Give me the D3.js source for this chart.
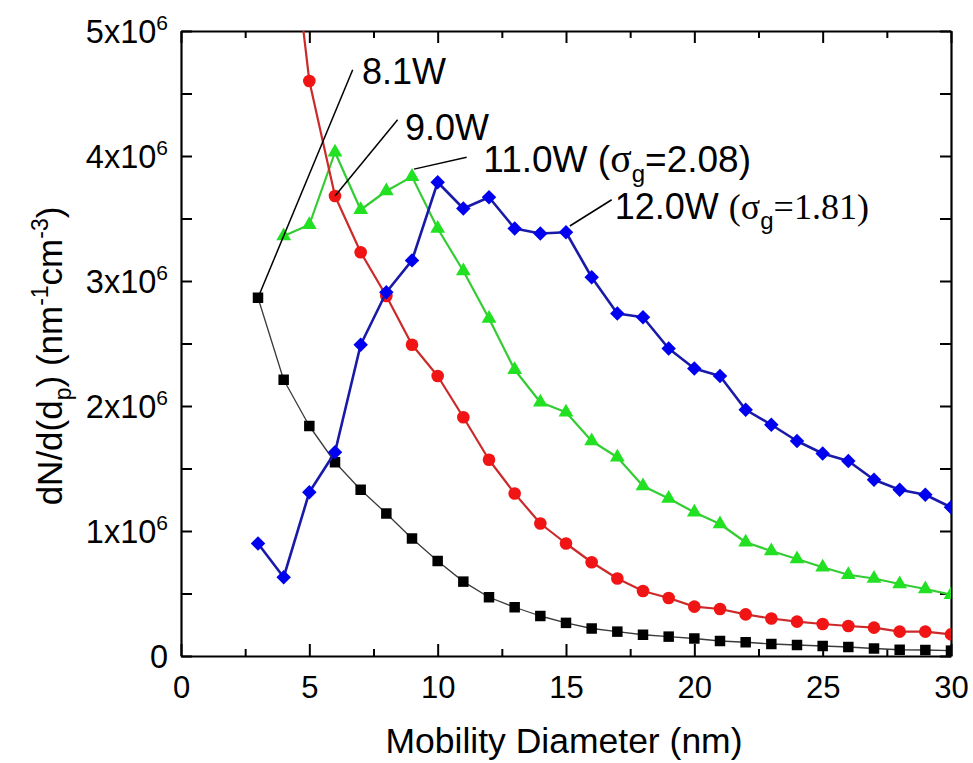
<!DOCTYPE html>
<html>
<head>
<meta charset="utf-8">
<script src="https://cdn.jsdelivr.net/npm/d3@7"></script>
<style>
  html, body { margin: 0; padding: 0; background: #fff; }
  svg { display: block; }
  text { font-family: "Liberation Sans", Arial, sans-serif; fill: #000; }
</style>
</head>
<body>
<svg id="chart" width="973" height="763"></svg>
<script>
// Particle size distributions at four lamp powers (dN/d(dp), units of 10^6 nm^-1 cm^-3)
const diam3 = d3.range(3, 31);           // 3..30 nm
const diam4 = d3.range(4, 31);           // 4..30 nm

const w81 = [2.866, 2.21, 1.84, 1.55, 1.33, 1.14, 0.94, 0.76, 0.595, 0.47, 0.39, 0.32, 0.265, 0.22,
             0.195, 0.17, 0.155, 0.14, 0.12, 0.11, 0.096, 0.088, 0.08, 0.072, 0.06, 0.05, 0.048, 0.043];
const w90 = [6.35, 4.6, 3.68, 3.23, 2.88, 2.49, 2.24, 1.91, 1.57, 1.30, 1.06, 0.90, 0.75, 0.62,
             0.52, 0.464, 0.395, 0.376, 0.333, 0.30, 0.275, 0.256, 0.24, 0.227, 0.195, 0.195, 0.173];
const w110 = [3.36, 3.45, 4.03, 3.57, 3.72, 3.835, 3.42, 3.08, 2.70, 2.29, 2.03, 1.95, 1.72, 1.59,
              1.36, 1.26, 1.15, 1.056, 0.91, 0.84, 0.776, 0.71, 0.65, 0.62, 0.576, 0.536, 0.49];
const w120 = [0.90, 0.63, 1.31, 1.63, 2.49, 2.91, 3.165, 3.79, 3.58, 3.67, 3.42, 3.38, 3.39, 3.03,
              2.74, 2.71, 2.46, 2.30, 2.24, 1.97, 1.85, 1.72, 1.62, 1.56, 1.41, 1.33, 1.29, 1.19];

const xMajorTicks = [0, 5, 10, 15, 20, 25, 30];
const xMinorTicks = [2.5, 7.5, 12.5, 17.5, 22.5, 27.5];
const yMajorTicks = [0, 1, 2, 3, 4, 5];
const yMinorTicks = [0.5, 1.5, 2.5, 3.5, 4.5];

const xTitle = "Mobility Diameter (nm)";

const series = [
  { x: diam3, y: w81,  line: "#3a3a3a", lw: 1.3, fill: "#000000", shape: "square" },
  { x: diam4, y: w110, line: "#33cc33", lw: 2.2, fill: "#22e022", shape: "triangle" },
  { x: diam4, y: w90,  line: "#cc2a2a", lw: 2.2, fill: "#f01414", shape: "circle" },
  { x: diam3, y: w120, line: "#1a1aa8", lw: 2.6, fill: "#0000f0", shape: "diamond" }
];

const svg = d3.select("#chart");
const pLeft = 181, pRight = 951, pTop = 31, pBottom = 656;

const x = d3.scaleLinear().domain([0, 30]).range([pLeft, pRight]);
const y = d3.scaleLinear().domain([0, 5]).range([pBottom, pTop]);

svg.append("defs").append("clipPath").attr("id", "plotClip")
  .append("rect").attr("x", pLeft).attr("y", pTop)
  .attr("width", pRight - pLeft).attr("height", pBottom - pTop);

// ---- axes (ticks point inward, mirrored on top/right) ----
function styleAxis(g) {
  g.selectAll("path.domain").attr("stroke", "#000").attr("stroke-width", 2.2);
  g.selectAll(".tick line").attr("stroke", "#000").attr("stroke-width", 2);
}

// bottom
svg.append("g").attr("transform", `translate(0,${pBottom})`)
  .call(d3.axisBottom(x).tickValues(xMinorTicks).tickSize(-7).tickFormat(""))
  .call(styleAxis).call(g => g.select("path.domain").remove());
const bx = svg.append("g").attr("transform", `translate(0,${pBottom})`)
  .call(d3.axisBottom(x).tickValues(xMajorTicks).tickSizeInner(-12).tickSizeOuter(0).tickPadding(42))
  .call(styleAxis);
bx.selectAll(".tick text").attr("font-size", 31).attr("dy", 0)
  .attr("font-family", "Liberation Sans, Arial, sans-serif");

// top
svg.append("g").attr("transform", `translate(0,${pTop})`)
  .call(d3.axisTop(x).tickValues(xMinorTicks).tickSize(-7).tickFormat(""))
  .call(styleAxis).call(g => g.select("path.domain").remove());
svg.append("g").attr("transform", `translate(0,${pTop})`)
  .call(d3.axisTop(x).tickValues(xMajorTicks).tickSizeInner(-12).tickSizeOuter(0).tickFormat(""))
  .call(styleAxis);

// left
svg.append("g").attr("transform", `translate(${pLeft},0)`)
  .call(d3.axisLeft(y).tickValues(yMinorTicks).tickSize(-11).tickFormat(""))
  .call(styleAxis).call(g => g.select("path.domain").remove());
const ly = svg.append("g").attr("transform", `translate(${pLeft},0)`)
  .call(d3.axisLeft(y).tickValues(yMajorTicks).tickSizeInner(-11).tickSizeOuter(0).tickPadding(13))
  .call(styleAxis);
ly.selectAll(".tick text").each(function (d) {
  const t = d3.select(this).attr("font-size", 32.5).attr("dy", "0.36em")
    .attr("font-family", "Liberation Sans, Arial, sans-serif").text(null);
  if (d === 0) { t.text("0"); return; }
  t.append("tspan").text(d + "x10");
  t.append("tspan").attr("font-size", 21).attr("dy", -13).text("6");
});

// right
svg.append("g").attr("transform", `translate(${pRight},0)`)
  .call(d3.axisRight(y).tickValues(yMinorTicks).tickSize(-11).tickFormat(""))
  .call(styleAxis).call(g => g.select("path.domain").remove());
svg.append("g").attr("transform", `translate(${pRight},0)`)
  .call(d3.axisRight(y).tickValues(yMajorTicks).tickSizeInner(-11).tickSizeOuter(0).tickFormat(""))
  .call(styleAxis);

// ---- axis titles ----
svg.append("text").attr("x", 564).attr("y", 753)
  .attr("text-anchor", "middle").attr("font-size", 35.5).text(xTitle);

const yt = svg.append("text").attr("transform", "translate(62,356) rotate(-90)")
  .attr("text-anchor", "middle").attr("font-size", 35);
yt.append("tspan").text("dN/d(d");
yt.append("tspan").attr("font-size", 23).attr("dy", 9).text("p");
yt.append("tspan").attr("dy", -9).text(") (nm");
yt.append("tspan").attr("font-size", 23).attr("dy", -14).text("-1");
yt.append("tspan").attr("dy", 14).text("cm");
yt.append("tspan").attr("font-size", 23).attr("dy", -14).text("-3");
yt.append("tspan").attr("dy", 14).text(")");

// ---- series ----
const plot = svg.append("g").attr("clip-path", "url(#plotClip)");
const symbolOf = {
  square:   d3.symbol().type(d3.symbolSquare).size(110),
  circle:   d3.symbol().type(d3.symbolCircle).size(125),
  triangle: d3.symbol().type(d3.symbolTriangle).size(95),
  diamond:  d3.symbol().type(d3.symbolSquare).size(105)
};

series.forEach(s => {
  const pts = s.x.map((d, i) => [d, s.y[i]]);
  plot.append("path").datum(pts)
    .attr("fill", "none").attr("stroke", s.line).attr("stroke-width", s.lw)
    .attr("stroke-linejoin", "round")
    .attr("d", d3.line().x(d => x(d[0])).y(d => y(d[1])));
  plot.selectAll(null).data(pts).enter().append("path")
    .attr("d", symbolOf[s.shape])
    .attr("fill", s.fill)
    .attr("transform", d => `translate(${x(d[0])},${y(d[1])})` + (s.shape === "diamond" ? " rotate(45)" : ""));
});

// ---- annotations: leader lines from a data point to each label ----
const leaders = [
  { from: [3, w81[0]],            to: [6.69, 4.69] },
  { from: [6, w90[2]],            to: [8.44, 4.29] },
  { from: [9.08, w110[5] + 0.06], to: [11.13, 3.99] },
  { from: [15.15, w120[12] + 0.05], to: [16.78, 3.65] }
];
leaders.forEach(l => {
  svg.append("line")
    .attr("x1", x(l.from[0])).attr("y1", y(l.from[1]))
    .attr("x2", x(l.to[0])).attr("y2", y(l.to[1]))
    .attr("stroke", "#000").attr("stroke-width", 1.5);
});

const serif = "Liberation Serif, Times New Roman, serif";
const lab = 36;

svg.append("text").attr("x", x(7.05)).attr("y", y(4.58)).attr("font-size", lab).text("8.1W");
svg.append("text").attr("x", x(8.73)).attr("y", y(4.13)).attr("font-size", lab).text("9.0W");

const t11 = svg.append("text").attr("x", x(11.78)).attr("y", y(3.87)).attr("font-size", 37);
t11.append("tspan").text("11.0W (");
t11.append("tspan").attr("font-family", serif).attr("font-size", 40).text("σ");
t11.append("tspan").attr("font-size", 24).attr("dy", 10).text("g");
t11.append("tspan").attr("dy", -10).text("=2.08)");

const t12 = svg.append("text").attr("x", x(16.9)).attr("y", y(3.5)).attr("font-size", lab);
t12.append("tspan").text("12.0W ");
t12.append("tspan").attr("font-family", serif).text("(σ");
t12.append("tspan").attr("font-size", 24).attr("dy", 10).text("g");
t12.append("tspan").attr("font-family", serif).attr("dy", -10).text("=1.81)");
</script>
</body>
</html>
